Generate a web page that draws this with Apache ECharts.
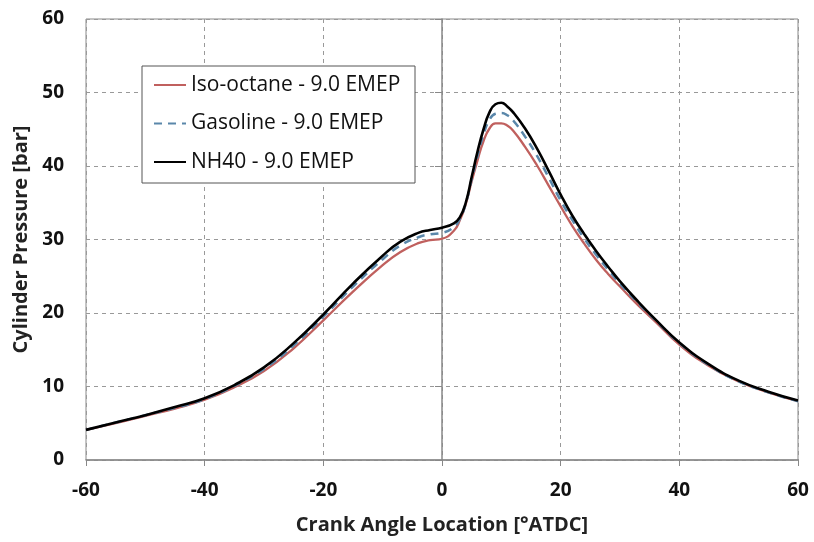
<!DOCTYPE html>
<html><head><meta charset="utf-8">
<script src="https://cdn.jsdelivr.net/npm/echarts@6/dist/echarts.min.js"></script>
<style>html,body{margin:0;padding:0;background:#fff}#c{width:814px;height:542px}</style>
</head><body><div id="c"></div>
<script>
var crankAngle = [-60,-55,-50,-45,-40,-35,-30,-25,-20,-15,-10,-7,-4,-2,0,2,3,4,5,6,7,8,9,10,11,12,14,16,18,20,22,24,26,28,30,33,36,40,45,50,55,60];
var isoOctane = [4.1,5.0,6.0,7.0,8.2,9.9,12.1,15.2,19.0,22.9,26.5,28.3,29.5,29.9,30.1,31.2,32.6,34.8,37.9,40.8,43.4,45.1,45.8,45.8,45.5,44.8,42.6,40.1,37.3,34.5,31.8,29.4,27.2,25.3,23.6,21.1,18.8,15.7,12.8,10.7,9.2,8.0];
var gasoline = [4.1,5.1,6.1,7.1,8.3,10.1,12.4,15.6,19.5,23.6,27.3,29.2,30.3,30.7,30.9,31.7,32.8,34.9,38.2,41.4,44.3,46.3,47.1,47.2,46.9,46.2,44.0,41.4,38.4,35.3,32.6,30.1,27.9,25.9,24.0,21.4,19.0,15.9,12.9,10.7,9.2,8.0];
var nh40 = [4.1,5.1,6.1,7.2,8.4,10.2,12.6,15.9,19.8,24.0,27.8,29.7,30.9,31.3,31.6,32.2,33.0,35.0,38.5,42.0,45.0,47.3,48.4,48.6,48.1,47.3,45.1,42.4,39.3,36.1,33.2,30.7,28.4,26.3,24.3,21.6,19.1,16.0,13.0,10.8,9.3,8.1];
var seriesNames = ['Iso-octane - 9.0 EMEP','Gasoline - 9.0 EMEP','NH40 - 9.0 EMEP'];
var xTitle = 'Crank Angle Location [\u00B0ATDC]';
var yTitle = 'Cylinder Pressure [bar]';

function pairs(xs, ys){ return xs.map(function(x,i){ return [x, ys[i]]; }); }

var FONT = 'Open Sans';
var chart = echarts.init(document.getElementById('c'), null, {renderer:'canvas'});
chart.setOption({
  animation:false,
  backgroundColor:'#fff',
  grid:{left:86,right:16,top:19,bottom:82,show:true,borderColor:'#888',borderWidth:1},
  legend:{
    left:142, top:66, orient:'vertical',
    data:seriesNames,
    backgroundColor:'#fff', borderColor:'#555', borderWidth:1,
    padding:[6,2,8,11],
    itemWidth:32, itemHeight:14, itemGap:12.5,
    itemStyle:{color:'transparent',borderWidth:0,opacity:0},
    textStyle:{fontFamily:FONT,fontSize:21,color:'#111',lineHeight:26,width:222}
  },
  xAxis:{
    type:'value', min:-60, max:60, interval:20,
    name:xTitle, nameLocation:'middle', nameGap:55,
    nameTextStyle:{fontFamily:FONT,fontWeight:'bold',fontSize:20,color:'#222'},
    axisLine:{show:true,onZero:false,lineStyle:{color:'#888',width:1.5}},
    axisTick:{show:true,length:6,lineStyle:{color:'#888'}},
    axisLabel:{fontFamily:FONT,fontWeight:'bold',fontSize:19,color:'#111',margin:21},
    splitLine:{show:true,lineStyle:{color:'#999',type:[4,4],width:1}}
  },
  yAxis:{
    type:'value', min:0, max:60, interval:10,
    name:yTitle, nameLocation:'middle', nameGap:53,
    nameTextStyle:{fontFamily:FONT,fontWeight:'bold',fontSize:20,color:'#222'},
    axisLine:{show:true,lineStyle:{color:'#888',width:1.5}},
    axisTick:{show:true,length:7,lineStyle:{color:'#888'}},
    axisLabel:{fontFamily:FONT,fontWeight:'bold',fontSize:19,color:'#111',margin:22},
    splitLine:{show:true,lineStyle:{color:'#999',type:[4,4],width:1}}
  },
  series:[
    {name:seriesNames[0],type:'line',smooth:0.5,symbol:'none',data:pairs(crankAngle,isoOctane),
     lineStyle:{color:'#c0605e',width:2.3},itemStyle:{color:'#c0605e'},z:2},
    {name:seriesNames[1],type:'line',smooth:0.5,symbol:'none',data:pairs(crankAngle,gasoline),
     lineStyle:{color:'#5a87aa',width:2.5,type:[8,6]},itemStyle:{color:'#5a87aa'},z:3},
    {name:seriesNames[2],type:'line',smooth:0.5,symbol:'none',data:pairs(crankAngle,nh40),
     lineStyle:{color:'#000',width:2.6},itemStyle:{color:'#000'},z:4}
  ]
});
</script></body></html>
